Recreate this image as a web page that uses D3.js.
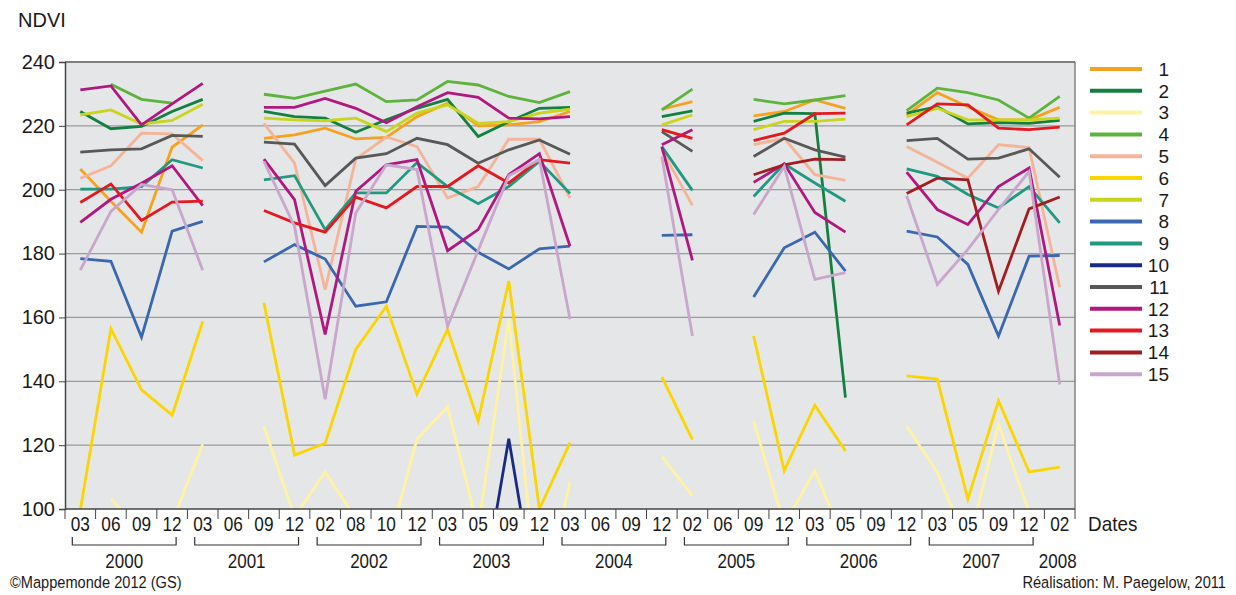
<!DOCTYPE html>
<html>
<head>
<meta charset="utf-8">
<script src="https://cdn.jsdelivr.net/npm/d3@7"></script>
<style>
  body { margin: 0; background: #fff; }
  text { font-family: "Liberation Sans", Arial, sans-serif; fill: #1a1a1a; }
</style>
</head>
<body>
<script>
// x categories (month of each image) and years
var months = ["03","06","09","12","03","06","09","12","02","08","10","12","03","05","09","12",
              "03","06","09","12","02","06","09","12","03","05","09","12","03","05","09","12","02"];
var years = ["2000","2001","2002","2003","2004","2005","2006","2007","2008"];
var yearStart = [0, 4, 8, 12, 16, 20, 24, 28, 32];
var yearCount = [4, 4, 4, 4, 4, 4, 4, 4, 1];
var yTicks = [100, 120, 140, 160, 180, 200, 220, 240];

var _ = null;
var s1  = [206.5,196.4,186.7,213.3,220.3,_,216.1,217.2,219.3,215.9,216.4,222.9,227.1,220,220.3,221.3,224.5,_,_,225.2,227.6,_,223.1,224.5,228.1,225.5,_,223.4,230.4,226,221.9,221.9,225.8];
var s2  = [224.5,219.1,219.8,224.5,228.3,_,224.5,222.9,222.4,218,221.9,225.5,228.3,216.7,221.3,225.5,225.8,_,_,222.9,224.7,_,221.4,224,223.8,134.9,_,224,226,220.6,221,220.8,221.7];
var s3  = [_,103.3,92,96,120.3,_,126,97.5,111.6,97,86,121.9,131.9,94,159.5,67,108.4,_,_,116.4,104.2,_,127.6,95,112,89,_,126,111.5,88,126.6,99,_];
var s4  = [_,233,228.3,227.1,_,_,229.9,228.6,230.9,233.1,227.6,228.1,233.9,232.8,229.2,227.3,230.7,_,_,225,231.5,_,228.3,226.9,228.1,229.5,_,224.8,231.8,230.4,228.1,222.4,229.2];
var s5  = [203.6,207.5,217.7,217.5,209.1,_,220.8,208.3,168.7,209.6,216.5,213.5,197.4,201,215.8,215.8,197.4,_,_,212.5,195.1,_,214.1,216.1,204.7,202.9,_,213.5,208.6,203.6,214.1,213.2,169.4];
var s6  = [99.6,156.5,137.3,129.4,158.8,_,164.6,116.9,120.6,150,163.5,135.9,156.3,127.6,171.4,100,120.8,_,_,141.4,121.7,_,154.2,112,132.5,118.2,_,141.7,140.7,103.1,133.9,111.6,113.1];
var s7  = [223.4,225,220.6,221.7,226.8,_,222.4,221.9,221.6,222.4,218.2,224,226.6,220.8,221.3,224,225.2,_,_,220.3,223.4,_,218.8,221.4,221.4,222.1,_,222.9,225.5,221.9,221.9,221.9,222.4];
var s8  = [178.4,177.6,153.8,187,190.1,_,177.4,182.8,178.3,163.5,164.9,188.5,188.3,180.4,175.2,181.5,182.3,_,_,185.7,185.9,_,166.4,181.8,186.7,174.5,_,187,185.2,176.6,154.2,179.2,179.4];
var s9  = [200.2,200.2,201,209.4,206.8,_,203.1,204.4,187.5,199,199,208.5,201,195.6,201,208.9,198.8,_,_,213.5,199.8,_,197.9,208.1,202.1,196.4,_,206.5,204.2,198.5,194.3,201,189.6];
var s10 = [_,_,_,_,_,_,_,_,_,_,_,_,_,66,122,65,_,_,_,_,_,_,_,_,_,_,_,_,_,_,_,_,_];
var s11 = [211.8,212.5,212.8,217,216.7,_,214.9,214.3,201.3,209.9,211.3,216.1,214.1,208.3,212.5,215.6,211.1,_,_,218.2,212,_,210.4,216.1,212.5,210.2,_,215.4,216.1,209.6,209.9,212.8,203.9];
var s12 = [189.8,197,202,207.5,195,_,209.6,196.9,154.7,199.5,207.8,209.4,180.9,187.5,204.7,211.3,182.3,_,_,213.5,177.9,_,202.3,208.1,192.9,186.7,_,205.5,193.8,189.1,201,206.8,157.5];
var s12b = [231.3,232.5,220.3,226.9,233.3,_,225.8,225.8,228.6,225.5,221,226,230.4,228.9,222.4,222.2,222.9,_,_,214.1,218.8,_,_,_,_,_,_,_,_,_,_,_,_];
var s13 = [196,201.8,190.4,196.1,196.4,_,193.5,189.6,186.7,197.7,194.3,201,201,207.5,202.1,209.4,208.3,_,_,218.8,216.1,_,215.4,217.7,223.8,224,_,220.3,226.9,226.6,219.3,218.8,219.6];
var s14 = [_,_,_,_,_,_,_,_,_,_,_,_,_,_,_,_,_,_,_,_,_,_,204.7,207.8,209.6,209.4,_,198.8,203.6,203.1,168.2,194,197.7];
var s15 = [174.8,193.2,201.6,200,174.8,_,208.9,188.5,134.4,192.7,207.8,206.3,157.2,181,204.4,209.4,159.4,_,_,210.4,154.2,_,192.2,207.3,171.9,174,_,198.1,170.3,181.3,193.8,205.7,139];

var names  = ["1","2","3","4","5","6","7","8","9","10","11","12","13","14","15"];
var colors = ["#f6a21e","#13803f","#fff3a3","#5db33c","#f5b397","#fbd500","#c9d41c","#3b67ae",
              "#1f9a80","#182a85","#585858","#b1187f","#e3191f","#a11d22","#c9a6cb"];
var values = [s1,s2,s3,s4,s5,s6,s7,s8,s9,s10,s11,s12,s13,s14,s15];

var margin = {top: 62, right: 161, bottom: 86, left: 65},
	width = 1236 - margin.left - margin.right,
	height = 595 - margin.top - margin.bottom;

var series = names.map(function(n, i) { return {name: n, color: colors[i], values: values[i]}; });
// second magenta curve (drawn with the colour of 12, not in legend)
series.splice(12, 0, {name: "12b", color: colors[11], values: s12b});

var x = d3.scaleBand()
	.domain(d3.range(months.length))
	.range([0, width])
	.padding(0);

var y = d3.scaleLinear()
	.domain([100, 240])
	.range([height, 0]);

var cx = function(i) { return x(i) + x.bandwidth() / 2; };

var svg = d3.select("body").append("svg")
	.attr("width", 1236)
	.attr("height", 595);

var main = svg.append("g")
	.attr("transform", "translate(" + margin.left + "," + margin.top + ")");

main.append("rect")
	.attr("width", width)
	.attr("height", height)
	.attr("fill", "#e5e6e8");

main.append("clipPath").attr("id", "clip")
	.append("rect").attr("width", width).attr("height", height);

// grid
main.selectAll(".grid")
	.data(yTicks.filter(function(d) { return d > 100 && d < 240; }))
	.enter().append("line")
	.attr("x1", 0).attr("x2", width)
	.attr("y1", function(d) { return y(d); })
	.attr("y2", function(d) { return y(d); })
	.attr("stroke", "#9a9a9a")
	.attr("stroke-width", 1.2);

// frame top / right
main.append("line").attr("x1", 0).attr("x2", width).attr("y1", 0).attr("y2", 0)
	.attr("stroke", "#808080").attr("stroke-width", 2);
main.append("line").attr("x1", width).attr("x2", width).attr("y1", 0).attr("y2", height)
	.attr("stroke", "#808080").attr("stroke-width", 1.5);

// lines
var line = d3.line()
	.defined(function(d) { return d != null; })
	.x(function(d, i) { return cx(i); })
	.y(function(d) { return y(d); });

main.append("g")
	.attr("clip-path", "url(#clip)")
	.selectAll("path")
	.data(series)
	.enter().append("path")
	.attr("d", function(d) { return line(d.values); })
	.attr("fill", "none")
	.attr("stroke", function(d) { return d.color; })
	.attr("stroke-width", 2.8)
	.attr("stroke-linejoin", "miter");

// y axis
var yAxis = d3.axisLeft(y).tickValues(yTicks).tickSize(6).tickPadding(4);
var ya = main.append("g").call(yAxis);
ya.select(".domain").attr("stroke", "#444").attr("stroke-width", 1.5);
ya.selectAll(".tick line").attr("stroke", "#444");
ya.selectAll(".tick text")
	.style("font-size", "20px")
	.style("font-family", "Liberation Sans, Arial, sans-serif")
	.attr("fill", "#1a1a1a");

// x axis line + ticks at category boundaries
main.append("line").attr("x1", 0).attr("x2", width).attr("y1", height).attr("y2", height)
	.attr("stroke", "#444").attr("stroke-width", 1.5);
main.selectAll(".xtick")
	.data(d3.range(months.length + 1))
	.enter().append("line")
	.attr("x1", function(i) { return i * x.step(); })
	.attr("x2", function(i) { return i * x.step(); })
	.attr("y1", height).attr("y2", height + 10)
	.attr("stroke", "#444");

main.selectAll(".month")
	.data(months)
	.enter().append("text")
	.attr("transform", function(d, i) { return "translate(" + cx(i) + "," + (height + 22) + ") scale(0.82,1)"; })
	.attr("text-anchor", "middle")
	.style("font-size", "21px")
	.text(function(d) { return d; });

// year brackets
var yr = main.selectAll(".year")
	.data(years)
	.enter().append("g");

yr.filter(function(d, i) { return yearCount[i] > 1; })
	.append("path")
	.attr("d", function(d, i) {
		var j = years.indexOf(d);
		var a = cx(yearStart[j]) - 8, b = cx(yearStart[j] + yearCount[j] - 1) + 4;
		return "M" + a + "," + (height + 28) + "V" + (height + 36) + "H" + b + "V" + (height + 28);
	})
	.attr("fill", "none")
	.attr("stroke", "#333")
	.attr("stroke-width", 1.2);

yr.append("text")
	.attr("transform", function(d, i) {
		var a = cx(yearStart[i]) - 8, b = cx(yearStart[i] + yearCount[i] - 1) + 4;
		if (yearCount[i] == 1) { a = cx(yearStart[i]) - 2; b = a; }
		return "translate(" + ((a + b) / 2) + "," + (height + 59) + ") scale(0.85,1)";
	})
	.attr("text-anchor", "middle")
	.style("font-size", "20px")
	.text(function(d) { return d; });

// labels
svg.append("text").attr("x", 18).attr("y", 27).style("font-size", "20px").text("NDVI");
svg.append("text")
	.attr("transform", "translate(1088," + (margin.top + height + 22) + ") scale(0.9,1)")
	.style("font-size", "21px").text("Dates");
svg.append("text")
	.attr("transform", "translate(10,588) scale(0.86,1)")
	.style("font-size", "17px").text("©Mappemonde 2012 (GS)");
svg.append("text")
	.attr("transform", "translate(1226,588) scale(0.86,1)")
	.attr("text-anchor", "end")
	.style("font-size", "17px").text("Réalisation: M. Paegelow, 2011");

// legend
var legend = svg.selectAll(".legend")
	.data(names)
	.enter().append("g")
	.attr("transform", function(d, i) { return "translate(0," + (69 + i * 21.8) + ")"; });

legend.append("line")
	.attr("x1", 1090).attr("x2", 1142)
	.attr("stroke", function(d, i) { return colors[i]; })
	.attr("stroke-width", 4);

legend.append("text")
	.attr("x", 1169)
	.attr("dy", "0.36em")
	.attr("text-anchor", "end")
	.style("font-size", "19px")
	.text(function(d) { return d; });
</script>
</body>
</html>
